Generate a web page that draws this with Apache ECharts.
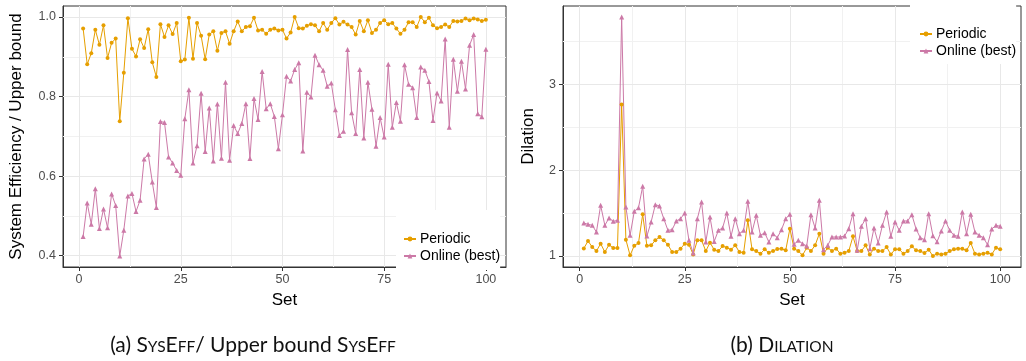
<!DOCTYPE html>
<html>
<head>
<meta charset="utf-8">
<script src="https://cdn.jsdelivr.net/npm/echarts@6/dist/echarts.min.js"></script>
<style>
html,body{margin:0;padding:0;background:#fff;}
#chart{width:1026px;height:361px;}
</style>
</head>
<body>
<div id="chart"></div>
<script>
// ---------- data ----------
const sets = Array.from({length: 100}, (_, i) => i + 1);

const periodicEff = [0.971,0.881,0.909,0.968,0.930,0.979,0.897,0.935,0.946,0.738,
0.860,0.997,0.920,0.901,0.944,0.922,0.969,0.886,0.849,0.982,
0.950,0.979,0.957,0.985,0.889,0.893,0.998,0.895,0.985,0.953,
0.894,0.956,0.964,0.915,0.960,0.964,0.933,0.964,0.989,0.964,
0.975,0.977,0.998,0.966,0.968,0.958,0.968,0.971,0.966,0.968,
0.946,0.961,1.000,0.972,0.971,0.978,0.982,0.979,0.964,0.985,
0.968,0.985,0.997,0.981,0.988,0.981,0.975,0.956,0.990,0.964,
0.992,0.960,0.968,0.985,0.992,0.982,0.985,0.971,0.958,0.968,
0.987,0.987,0.975,1.000,0.987,0.998,0.979,0.972,0.975,0.981,
0.975,0.990,0.989,0.990,0.996,0.992,0.996,0.994,0.990,0.993];

const onlineEff = [0.448,0.532,0.479,0.568,0.468,0.517,0.470,0.555,0.526,0.399,
0.464,0.550,0.556,0.511,0.539,0.643,0.655,0.585,0.521,0.737,
0.735,0.648,0.633,0.614,0.602,0.744,0.817,0.633,0.676,0.808,
0.662,0.771,0.638,0.781,0.645,0.836,0.640,0.727,0.707,0.732,
0.782,0.644,0.795,0.742,0.863,0.769,0.782,0.750,0.669,0.754,
0.851,0.839,0.868,0.885,0.663,0.811,0.799,0.904,0.880,0.866,
0.826,0.834,0.767,0.702,0.713,0.918,0.759,0.707,0.868,0.696,
0.836,0.768,0.675,0.747,0.698,0.881,0.723,0.785,0.738,0.880,
0.831,0.822,0.747,0.874,0.866,0.838,0.740,0.809,0.789,0.945,
0.723,0.894,0.813,0.889,0.819,0.929,0.956,0.757,0.749,0.919];

const periodicDil = [1.089,1.175,1.105,1.058,1.144,1.047,1.132,1.093,1.093,2.767,
1.191,1.008,1.121,1.152,1.486,1.121,1.125,1.183,1.222,1.183,
1.132,1.047,1.047,1.086,1.144,1.132,1.019,1.183,1.183,1.058,
1.156,1.074,1.058,1.117,1.097,1.074,1.125,1.047,1.039,1.416,
1.078,1.058,1.027,1.078,1.039,1.058,1.082,1.086,1.066,1.319,
1.086,1.058,1.008,1.097,1.058,1.125,1.261,1.027,1.097,1.058,
1.086,1.027,1.039,1.058,1.230,1.058,1.058,1.125,1.019,1.086,
1.058,1.058,1.105,1.019,1.078,1.078,1.027,1.058,1.113,1.066,
1.058,1.035,1.074,1.000,1.027,1.019,1.027,1.058,1.078,1.086,
1.086,1.066,1.152,1.027,1.019,1.027,1.039,1.019,1.097,1.078];

const onlineDil = [1.385,1.370,1.358,1.280,1.591,1.358,1.444,1.405,1.416,3.790,
1.572,1.241,1.521,1.564,1.813,1.233,1.397,1.599,1.584,1.436,
1.300,1.307,1.409,1.436,1.502,1.183,1.035,1.436,1.630,1.163,
1.455,1.170,1.300,1.327,1.502,1.230,1.436,1.261,1.300,1.638,
1.280,1.475,1.241,1.272,1.163,1.261,1.214,1.307,1.436,1.486,
1.136,1.183,1.144,1.117,1.482,1.327,1.650,1.074,1.125,1.222,
1.222,1.222,1.233,1.319,1.494,1.066,1.346,1.436,1.086,1.327,
1.152,1.358,1.514,1.230,1.397,1.300,1.409,1.409,1.482,1.315,
1.214,1.191,1.494,1.237,1.167,1.292,1.409,1.300,1.241,1.230,
1.514,1.261,1.486,1.280,1.241,1.214,1.132,1.315,1.358,1.346];

const xTicks = [0, 25, 50, 75, 100];
const xMinor = [12.5, 37.5, 62.5, 87.5];
const effTicks = [0.4, 0.6, 0.8, 1.0];
const effMinor = [0.5, 0.7, 0.9];
const dilTicks = [1, 2, 3];
const dilMinor = [1.5, 2.5, 3.5];

const seriesNames = ['Periodic', 'Online (best)'];
const panelTitles = ['Set', 'System Efficiency / Upper bound', 'Dilation'];

// ---------- helpers ----------
const ORANGE = '#E69F00', PINK = '#CC79A7';
const FONT = 'Liberation Sans, Arial, sans-serif';
const CAPFONT = 'Lato, Open Sans, sans-serif';
const zip = (xs, ys) => xs.map((x, i) => [x, ys[i]]);

function gridMarks(majX, minX, majY, minY) {
  const d = [];
  minX.forEach(v => d.push({xAxis: v, lineStyle: {color: '#f1f1f1', width: 1, type: 'solid'}}));
  minY.forEach(v => d.push({yAxis: v, lineStyle: {color: '#f1f1f1', width: 1, type: 'solid'}}));
  majX.forEach(v => d.push({xAxis: v, lineStyle: {color: '#e8e8e8', width: 1, type: 'solid'}}));
  majY.forEach(v => d.push({yAxis: v, lineStyle: {color: '#e8e8e8', width: 1, type: 'solid'}}));
  return {silent: true, symbol: 'none', label: {show: false}, z: 1, animation: false, data: d};
}

function xAxisCfg(gi) {
  return {
    type: 'value', gridIndex: gi, min: -3.95, max: 104.95,
    axisLine: {show: true, onZero: false, lineStyle: {color: '#333', width: 1}},
    axisTick: {show: true, length: 4, customValues: xTicks, lineStyle: {color: '#333'}},
    axisLabel: {customValues: xTicks, color: '#4d4d4d', fontSize: 12.5, fontFamily: FONT, margin: 6},
    splitLine: {show: false},
    name: panelTitles[0], nameLocation: 'middle', nameGap: 25,
    nameTextStyle: {fontSize: 17, color: '#000', fontFamily: FONT}
  };
}

function yAxisCfg(gi, min, max, ticks, fmt, name, gap) {
  return {
    type: 'value', gridIndex: gi, min: min, max: max,
    axisLine: {show: true, onZero: false, lineStyle: {color: '#333', width: 1}},
    axisTick: {show: true, length: 4, customValues: ticks, lineStyle: {color: '#333'}},
    axisLabel: {customValues: ticks, color: '#4d4d4d', fontSize: 12.5, fontFamily: FONT, margin: 7, formatter: fmt},
    splitLine: {show: false},
    name: name, nameLocation: 'middle', nameGap: gap,
    nameTextStyle: {fontSize: 17, color: '#000', fontFamily: FONT}
  };
}

function lineSeries(name, gi, ys, color, symbol, size, marks) {
  const s = {
    name: name, type: 'line', xAxisIndex: gi, yAxisIndex: gi,
    data: zip(sets, ys), symbol: symbol, symbolSize: size,
    showSymbol: true, showAllSymbol: true,
    lineStyle: {color: color, width: 1}, itemStyle: {color: color},
    z: 3
  };
  if (marks) s.markLine = marks;
  return s;
}

function legendCfg(left, top, pad) {
  return {
    data: seriesNames, orient: 'vertical', left: left, top: top,
    backgroundColor: '#ffffff', padding: pad,
    itemWidth: 12, itemHeight: 6, itemGap: 1,
    textStyle: {fontSize: 14, color: '#000', fontFamily: FONT, lineHeight: 16, padding: [0, 0, 0, -1]},
    selectedMode: false, z: 10
  };
}

const capRich = {
  n: {fontSize: 21, fontFamily: CAPFONT, fontWeight: 'normal', color: '#111', verticalAlign: 'bottom', lineHeight: 26},
  s: {fontSize: 15.5, fontFamily: CAPFONT, fontWeight: 'normal', color: '#111', verticalAlign: 'bottom', lineHeight: 26, padding: [0, 0, 1, 0]}
};

const option = {
  animation: false,
  backgroundColor: '#ffffff',
  title: [
    {text: '{n|(a) S}{s|YS}{n|E}{s|FF}{n|/ Upper bound S}{s|YS}{n|E}{s|FF}', left: 253, top: 330, textAlign: 'center', padding: 0,
     textStyle: {fontWeight: 'normal', rich: capRich}},
    {text: '{n|(b) D}{s|ILATION}', left: 782, top: 330, textAlign: 'center', padding: 0,
     textStyle: {fontWeight: 'normal', rich: capRich}}
  ],
  grid: [
    {left: 63, top: 6, width: 443, height: 261, show: true, borderColor: '#333', borderWidth: 1, backgroundColor: 'transparent'},
    {left: 563, top: 6, width: 458, height: 261, show: true, borderColor: '#333', borderWidth: 1, backgroundColor: 'transparent'}
  ],
  xAxis: [xAxisCfg(0), xAxisCfg(1)],
  yAxis: [
    yAxisCfg(0, 0.3713, 1.0277, effTicks, v => v.toFixed(1), panelTitles[1], 38),
    yAxisCfg(1, 0.872, 3.917, dilTicks, v => String(Math.round(v)), panelTitles[2], 26)
  ],
  legend: [
    legendCfg(396, 210, [21, 0, 6, 7]),
    legendCfg(910, 0, [26, 0, 5, 9])
  ],
  series: [
    lineSeries(seriesNames[0], 0, periodicEff, ORANGE, 'circle', 4, gridMarks(xTicks, xMinor, effTicks, effMinor)),
    lineSeries(seriesNames[1], 0, onlineEff, PINK, 'triangle', 5),
    lineSeries(seriesNames[0], 1, periodicDil, ORANGE, 'circle', 4, gridMarks(xTicks, xMinor, dilTicks, dilMinor)),
    lineSeries(seriesNames[1], 1, onlineDil, PINK, 'triangle', 5)
  ]
};

const chart = echarts.init(document.getElementById('chart'), null, {renderer: 'canvas'});
chart.setOption(option);
</script>
</body>
</html>
